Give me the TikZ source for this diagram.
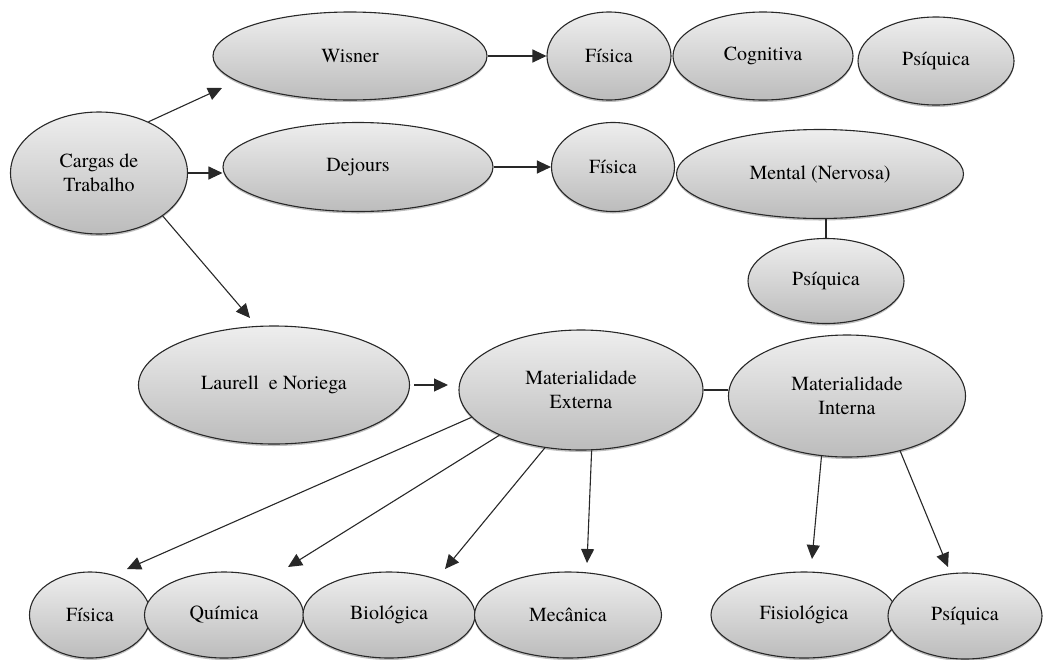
\documentclass[tikz,border=0pt]{standalone}
\usepackage{fontspec}
\setmainfont{TeX Gyre Termes}
\usetikzlibrary{shapes.geometric,arrows.meta,shadows}
\definecolor{topgray}{RGB}{238,238,238}
\definecolor{botgray}{RGB}{188,188,188}
\definecolor{edge}{RGB}{40,40,40}
\tikzset{
  bubble/.style={ellipse, draw=edge, line width=1.1pt, top color=topgray, bottom color=botgray,
    inner sep=0pt, align=center, font=\fontsize{20}{24}\selectfont,
    drop shadow={shadow xshift=0pt, shadow yshift=-2pt, opacity=0.25, fill=black}},
  link/.style={line width=1.1pt, draw=edge},
  arr/.style={link, -{Triangle[length=14pt,width=13pt]}},
}
\begin{document}
\begin{tikzpicture}[x=1pt,y=-1pt]
\useasboundingbox (0,0) rectangle (1051,659);

% main nodes
\node[bubble, minimum width=177, minimum height=122] (cargas) at (99,173) {Cargas de\\Trabalho};
\node[bubble, minimum width=274, minimum height=88] (wisner) at (350,56) {Wisner};
\node[bubble, minimum width=270, minimum height=89] (dejours) at (358,167) {Dejours};
\node[bubble, minimum width=271, minimum height=118] (laurell) at (274,385) {Laurell\ \ e Noriega};

% Wisner row
\node[bubble, minimum width=124, minimum height=88] (fis1) at (609,56) {Física};
\node[bubble, minimum width=180, minimum height=88] (cog) at (763,56) {Cognitiva};
\node[bubble, minimum width=156, minimum height=88] (psi1) at (936,61) {Psíquica};

% Dejours row
\node[bubble, minimum width=123, minimum height=89] (fis2) at (613,167) {Física};
\node[bubble, minimum width=287, minimum height=89] (mental) at (820,174) {Mental (Nervosa)};
\node[bubble, minimum width=156, minimum height=85] (psi2) at (826,281) {Psíquica};

% Laurell e Noriega row
\node[bubble, minimum width=244, minimum height=120] (ext) at (581,390) {Materialidade\\Externa};
\node[bubble, minimum width=237, minimum height=122] (int) at (847,396) {Materialidade\\Interna};

% bottom row
\node[bubble, minimum width=121, minimum height=86] (fis3) at (90,615) {Física};
\node[bubble, minimum width=159, minimum height=86] (qui) at (224,615) {Química};
\node[bubble, minimum width=172, minimum height=86] (bio) at (389,615) {Biológica};
\node[bubble, minimum width=187, minimum height=86] (mec) at (568,615) {Mecânica};
\node[bubble, minimum width=186, minimum height=86] (fisio) at (804,615) {Fisiológica};
\node[bubble, minimum width=154, minimum height=86] (psi3) at (965,616) {Psíquica};

% free arrow ends
\coordinate (cwEnd) at (222,88);
\coordinate (clEnd) at (250,318);
\coordinate (lnEnd) at (448,385);
\coordinate (e1End) at (127,569);
\coordinate (e2End) at (288,567);
\coordinate (e3End) at (445,569);
\coordinate (e4End) at (587,563);
\coordinate (i1End) at (812,559);
\coordinate (i2End) at (948,567);

% connectors
\draw[arr] (cargas.46) -- (cwEnd);
\draw[arr] (cargas.east) -- (cargas.east -| dejours.west);
\draw[arr] (cargas.326) -- (clEnd);
\draw[arr] (wisner.east) -- (fis1.west);
\draw[arr] (dejours.east) -- (dejours.east -| fis2.west);
\draw[link] (psi2.north) -- (psi2.north |- mental.south);
\draw[arr, shorten <=4pt] (laurell.east) -- (lnEnd);
\draw[link] (ext.east) -- (ext.east -| int.west);
\draw[arr] (ext.194) -- (e1End);
\draw[arr] (ext.209) -- (e2End);
\draw[arr] (ext.238) -- (e3End);
\draw[arr] (ext.280) -- (e4End);
\draw[arr] (int.247) -- (i1End);
\draw[arr] (int.314) -- (i2End);
\end{tikzpicture}
\end{document}
